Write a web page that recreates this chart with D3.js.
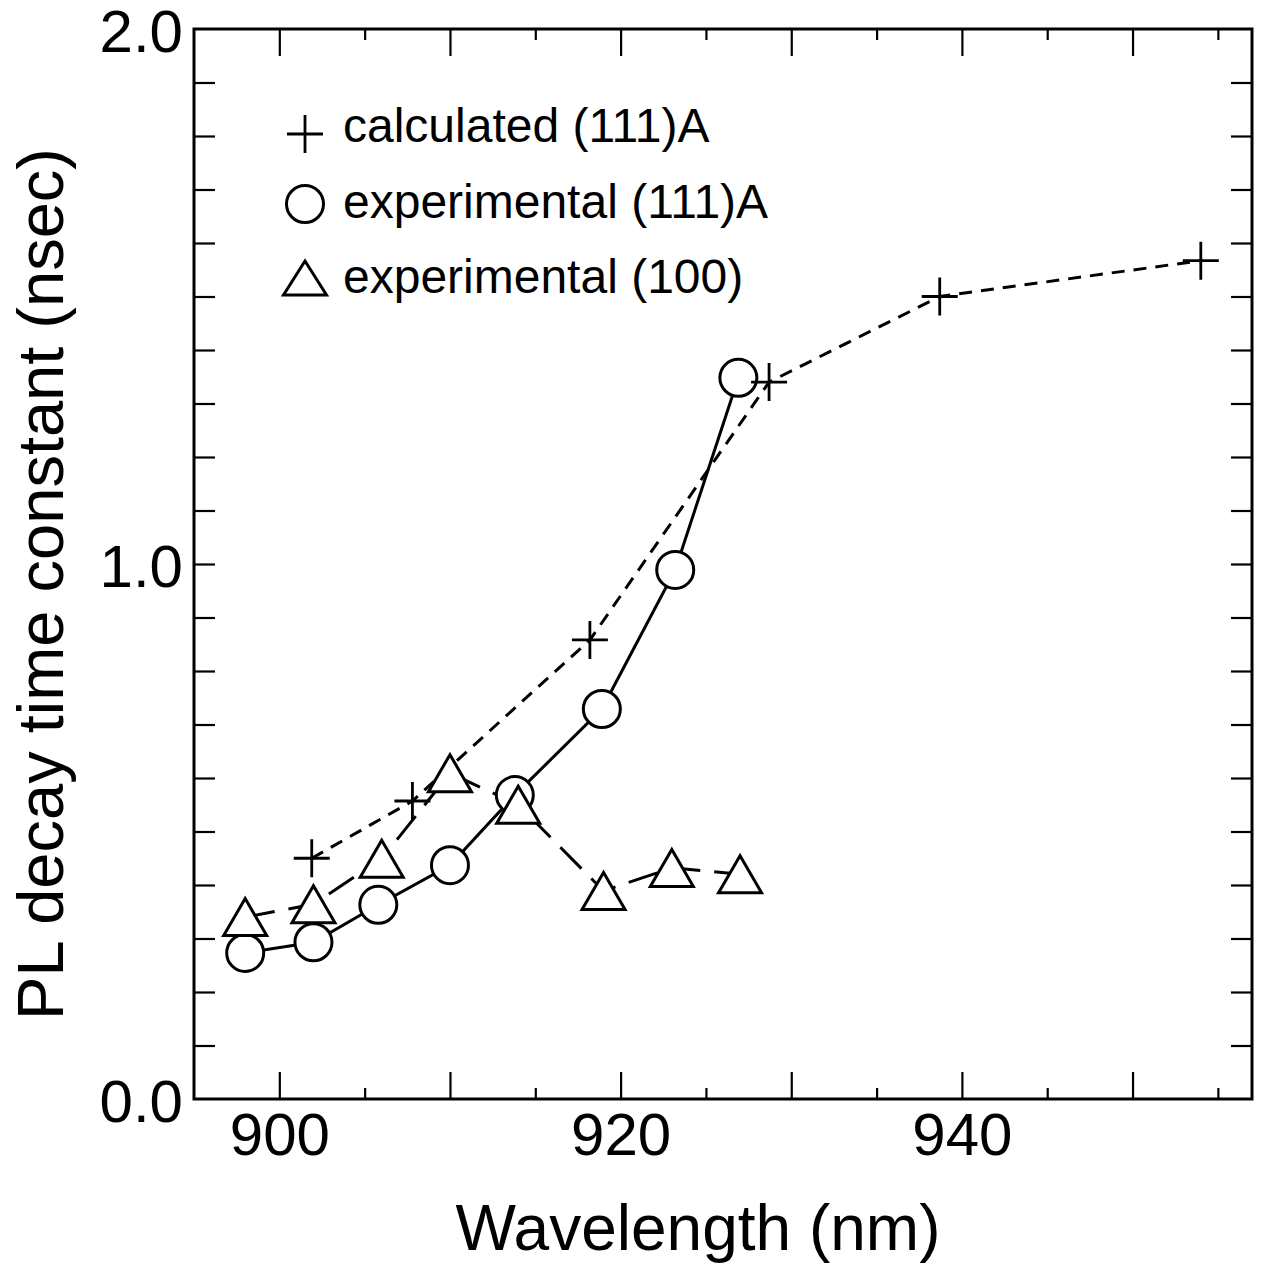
<!DOCTYPE html>
<html><head><meta charset="utf-8">
<script src="https://cdn.jsdelivr.net/npm/d3@7"></script>
<style>html,body{margin:0;padding:0;background:#fff;}svg{display:block;}</style>
</head><body>
<script>
// ---- data ----
const calcX = [901.9, 907.8, 918.2, 928.7, 938.7, 954.0];
const calcY = [0.450, 0.557, 0.858, 1.340, 1.500, 1.567];
const circX = [898.0, 902.0, 905.8, 910.0, 913.8, 918.9, 923.2, 926.9];
const circY = [0.273, 0.293, 0.363, 0.437, 0.568, 0.729, 0.989, 1.348];
const triX  = [898.0, 902.0, 906.0, 910.0, 914.0, 919.0, 923.0, 927.0];
const triY  = [0.340, 0.364, 0.449, 0.609, 0.550, 0.389, 0.432, 0.420];
const xMajor = [900, 910, 920, 930, 940, 950];
const xMinor = [905, 915, 925, 935, 945, 955];
const xLabels = [900, 920, 940];
const yTicks = d3.range(1, 20).map(i => i / 10);
const yLabels = [0, 1, 2];
const legendLabels = ["calculated (111)A", "experimental (111)A", "experimental (100)"];
const xTitle = "Wavelength (nm)";
const yTitle = "PL decay time constant (nsec)";

const W = 1264, H = 1267;
const FONT = "'Liberation Sans', Arial, Helvetica, sans-serif";
const L = 194, R = 1252, T = 29, B = 1099;

const svg = d3.select("body").append("svg").attr("width", W).attr("height", H);
const x = d3.scaleLinear().domain([895, 957]).range([L, R]);
const y = d3.scaleLinear().domain([0, 2]).range([B, T]);

function clean(g) { g.select(".domain").remove(); g.selectAll("line").attr("stroke", "#000").attr("stroke-width", 2.2); }

// ticks
svg.append("g").attr("transform", `translate(0,${B})`).call(d3.axisBottom(x).tickValues(xMajor).tickSize(-27).tickFormat("")).call(clean);
svg.append("g").attr("transform", `translate(0,${B})`).call(d3.axisBottom(x).tickValues(xMinor).tickSize(-11).tickFormat("")).call(clean);
svg.append("g").attr("transform", `translate(0,${T})`).call(d3.axisTop(x).tickValues(xMajor).tickSize(-27).tickFormat("")).call(clean);
svg.append("g").attr("transform", `translate(0,${T})`).call(d3.axisTop(x).tickValues(xMinor).tickSize(-11).tickFormat("")).call(clean);
svg.append("g").attr("transform", `translate(${L},0)`).call(d3.axisLeft(y).tickValues(yTicks).tickSize(-21).tickFormat("")).call(clean);
svg.append("g").attr("transform", `translate(${R},0)`).call(d3.axisRight(y).tickValues(yTicks).tickSize(-21).tickFormat("")).call(clean);

// tick labels
const xl = svg.append("g").attr("transform", `translate(0,${B})`)
  .call(d3.axisBottom(x).tickValues(xLabels).tickSize(0).tickPadding(13).tickFormat(d3.format("d")));
xl.select(".domain").remove();
xl.selectAll("text").attr("font-family", FONT).attr("font-size", 60).attr("fill", "#000");
const yl = svg.append("g").attr("transform", `translate(${L},0)`)
  .call(d3.axisLeft(y).tickValues(yLabels).tickSize(0).tickPadding(11).tickFormat(d3.format(".1f")));
yl.select(".domain").remove();
yl.selectAll("text").attr("font-family", FONT).attr("font-size", 60).attr("fill", "#000").attr("dy", "0.38em");

// frame
svg.append("rect").attr("x", L).attr("y", T).attr("width", R - L).attr("height", B - T)
  .attr("fill", "none").attr("stroke", "#000").attr("stroke-width", 3);

// titles
svg.append("text").attr("x", 698).attr("y", 1250).attr("text-anchor", "middle")
  .attr("font-family", FONT).attr("font-size", 64).text(xTitle);
svg.append("text").attr("transform", "translate(63,584) rotate(-90)").attr("text-anchor", "middle")
  .attr("font-family", FONT).attr("font-size", 65).text(yTitle);

// lines
const line = d3.line().x(d => x(d[0])).y(d => y(d[1]));
const calc = d3.zip(calcX, calcY), circ = d3.zip(circX, circY), tri = d3.zip(triX, triY);
svg.append("path").datum(calc).attr("d", line).attr("fill", "none").attr("stroke", "#000")
  .attr("stroke-width", 3).attr("stroke-dasharray", "13,9");
svg.append("path").datum(tri).attr("d", line).attr("fill", "none").attr("stroke", "#000")
  .attr("stroke-width", 3).attr("stroke-dasharray", "30,14");
svg.append("path").datum(circ).attr("d", line).attr("fill", "none").attr("stroke", "#000")
  .attr("stroke-width", 3);

// markers
const plusPath = "M-18,0H18M0,-19V19";
const triPath = "M0,-18.5L21.5,18.5L-21.5,18.5Z";
svg.append("g").selectAll("circle").data(circ).join("circle")
  .attr("cx", d => x(d[0])).attr("cy", d => y(d[1])).attr("r", 18.5)
  .attr("fill", "#fff").attr("stroke", "#000").attr("stroke-width", 3);
svg.append("g").selectAll("path").data(tri).join("path")
  .attr("transform", d => `translate(${x(d[0])},${y(d[1])})`).attr("d", triPath)
  .attr("fill", "#fff").attr("stroke", "#000").attr("stroke-width", 3).attr("stroke-linejoin", "miter");
svg.append("g").selectAll("path").data(calc).join("path")
  .attr("transform", d => `translate(${x(d[0])},${y(d[1])})`).attr("d", plusPath)
  .attr("fill", "none").attr("stroke", "#000").attr("stroke-width", 2.8);

// legend
const lg = svg.append("g");
lg.append("path").attr("transform", "translate(305,134)").attr("d", plusPath)
  .attr("fill", "none").attr("stroke", "#000").attr("stroke-width", 2.8);
lg.append("circle").attr("cx", 305).attr("cy", 204).attr("r", 18.5)
  .attr("fill", "#fff").attr("stroke", "#000").attr("stroke-width", 3);
lg.append("path").attr("transform", "translate(305,278)").attr("d", "M0,-17L21.5,17L-21.5,17Z")
  .attr("fill", "#fff").attr("stroke", "#000").attr("stroke-width", 3);
const baselines = [142, 218, 293];
lg.selectAll("text").data(legendLabels).join("text")
  .attr("x", 343).attr("y", (d, i) => baselines[i])
  .attr("font-family", FONT).attr("font-size", 48).text(d => d);
</script>
</body></html>
